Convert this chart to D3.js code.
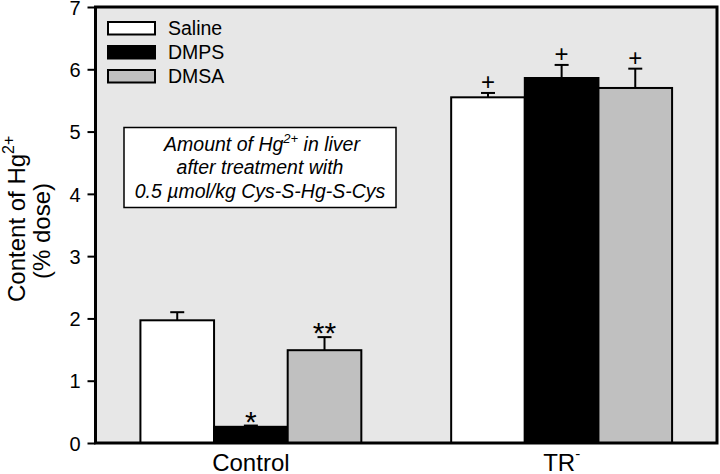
<!DOCTYPE html>
<html>
<head>
<meta charset="utf-8">
<script src="https://cdn.jsdelivr.net/npm/d3@7"></script>
<style>
  html, body { margin: 0; padding: 0; background: #fff; }
  svg { display: block; font-family: "Liberation Sans", Arial, sans-serif; }
</style>
</head>
<body>
<svg id="chart" width="720" height="474"></svg>
<script>
// ---- data ----
const groups = ["Control", "TR"];
const series = ["Saline", "DMPS", "DMSA"];
const seriesColors = ["#ffffff", "#000000", "#c0c0c0"];
const controlValues = [1.97, 0.26, 1.49];
const controlErrors = [0.13, 0.02, 0.21];
const trValues = [5.55, 5.86, 5.70];
const trErrors = [0.07, 0.21, 0.31];
const controlMarks = ["", "*", "**"];
const trMarks = ["+", "+", "+"];
const yTicks = [0, 1, 2, 3, 4, 5, 6, 7];
const boxLines = ["after treatment with", "0.5 \u00b5mol/kg Cys-S-Hg-S-Cys"];

const values = [controlValues, trValues];
const errors = [controlErrors, trErrors];
const marks = [controlMarks, trMarks];
const rows = [];
groups.forEach((g, gi) => series.forEach((s, si) => rows.push({
  group: g, series: s, value: values[gi][si], err: errors[gi][si], mark: marks[gi][si], color: seriesColors[si]
})));

// ---- layout ----
const svg = d3.select("#chart");
const plot = { left: 95.5, right: 717, top: 7, bottom: 443 };

const y = d3.scaleLinear().domain([0, 7]).range([plot.bottom, plot.top]);
const x0 = d3.scaleBand().domain(groups).range([plot.left, plot.right]).padding(0);
const x1 = d3.scaleBand().domain(series).range([0, x0.bandwidth()]).paddingInner(0).paddingOuter(0.61);

// plot background
svg.append("rect")
  .attr("x", plot.left).attr("y", plot.top)
  .attr("width", plot.right - plot.left).attr("height", plot.bottom - plot.top)
  .attr("fill", "#e7e7e7");

// bars
const g = svg.append("g");
g.selectAll("rect.bar").data(rows).join("rect")
  .attr("class", "bar")
  .attr("x", d => x0(d.group) + x1(d.series))
  .attr("y", d => y(d.value))
  .attr("width", x1.bandwidth())
  .attr("height", d => y(0) - y(d.value))
  .attr("fill", d => d.color)
  .attr("stroke", "#000").attr("stroke-width", 2);

// error bars
const cx = d => x0(d.group) + x1(d.series) + x1.bandwidth() / 2;
g.selectAll("line.err").data(rows).join("line")
  .attr("x1", cx).attr("x2", cx)
  .attr("y1", d => y(d.value)).attr("y2", d => y(d.value + d.err))
  .attr("stroke", "#000").attr("stroke-width", 2);
g.selectAll("line.cap").data(rows).join("line")
  .attr("x1", d => cx(d) - 7).attr("x2", d => cx(d) + 7)
  .attr("y1", d => y(d.value + d.err)).attr("y2", d => y(d.value + d.err))
  .attr("stroke", "#000").attr("stroke-width", 2);

// significance marks
g.selectAll("text.mark").data(rows.filter(d => d.mark)).join("text")
  .attr("x", cx)
  .attr("y", d => d.mark.startsWith("*") ? y(d.value + d.err) - 11 + 17 : y(d.value + d.err) - 11 + 8)
  .attr("text-anchor", "middle")
  .attr("font-size", d => d.mark.startsWith("*") ? 30 : 24)
  .text(d => d.mark);

// frame
svg.append("rect")
  .attr("x", plot.left).attr("y", plot.top)
  .attr("width", plot.right - plot.left).attr("height", plot.bottom - plot.top)
  .attr("fill", "none").attr("stroke", "#000").attr("stroke-width", 3);

// y axis
const yAxis = svg.append("g")
  .attr("transform", `translate(${plot.left},0)`)
  .call(d3.axisLeft(y).tickValues(yTicks).tickSize(8).tickPadding(7).tickFormat(d3.format("d")));
yAxis.select(".domain").remove();
yAxis.selectAll(".tick line").attr("stroke", "#000").attr("stroke-width", 2);
yAxis.selectAll(".tick text").attr("font-size", 20).attr("fill", "#000").attr("dy", "0.36em")
  .attr("font-family", "'Liberation Sans', Arial, sans-serif");

// x labels
const xl = svg.append("g");
xl.append("text").attr("x", x0("Control") + x0.bandwidth() / 2).attr("y", 471)
  .attr("text-anchor", "middle").attr("font-size", 24).text(groups[0]);
const trT = xl.append("text").attr("x", x0("TR") + x0.bandwidth() / 2).attr("y", 471)
  .attr("text-anchor", "middle").attr("font-size", 24);
trT.append("tspan").text(groups[1]);
trT.append("tspan").attr("font-size", 15).attr("dy", -12).text("-");

// y axis title
const yt1 = svg.append("text").attr("transform", "translate(25,302) rotate(-90)")
  .attr("text-anchor", "start").attr("font-size", 24);
yt1.append("tspan").text("Content of Hg");
yt1.append("tspan").attr("font-size", 16).attr("dy", -11).text("2+");
svg.append("text").attr("transform", "translate(50,231) rotate(-90)")
  .attr("text-anchor", "middle").attr("font-size", 24).text("(% dose)");

// legend
const leg = svg.append("g");
const legY = [22, 46, 70];
series.forEach((s, i) => {
  leg.append("rect").attr("x", 108).attr("y", legY[i]).attr("width", 47).attr("height", 12.5)
    .attr("fill", seriesColors[i]).attr("stroke", "#000").attr("stroke-width", 2);
  leg.append("text").attr("x", 168).attr("y", legY[i] + 13).attr("font-size", 19.5).text(s);
});

// annotation box
const box = svg.append("g");
box.append("rect").attr("x", 124).attr("y", 127.5).attr("width", 272).attr("height", 80)
  .attr("fill", "#fff").attr("stroke", "#000").attr("stroke-width", 1.5);
const l1 = box.append("text").attr("x", 262).attr("y", 150.5).attr("text-anchor", "middle")
  .attr("font-size", 19.5).attr("font-style", "italic");
l1.append("tspan").text("Amount of Hg");
l1.append("tspan").attr("font-size", 13).attr("dy", -8).text("2+");
l1.append("tspan").attr("dy", 8).text(" in liver");
boxLines.forEach((t, i) => {
  box.append("text").attr("x", 260).attr("y", 174.3 + i * 23.4).attr("text-anchor", "middle")
    .attr("font-size", 19.5).attr("font-style", "italic").text(t);
});
</script>
</body>
</html>
